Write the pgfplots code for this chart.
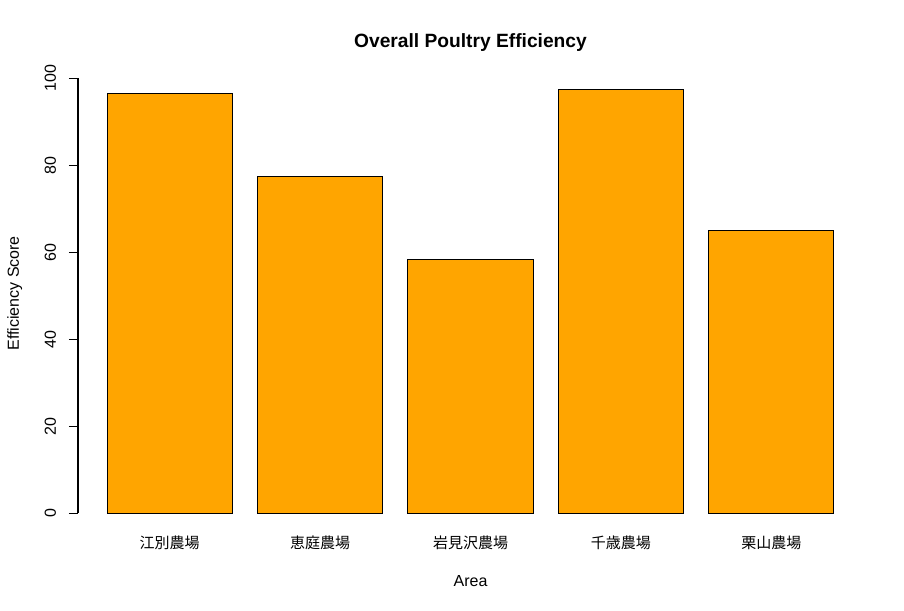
\documentclass[border=0pt]{standalone}
\usepackage{pgfplots}
\pgfplotsset{compat=1.18}
\usepackage{fontspec}
\setmainfont{Liberation Sans}
\newfontfamily\cjk{Noto Sans CJK JP}
\definecolor{barorange}{HTML}{FFA500}
\begin{document}
\begin{tikzpicture}
\useasboundingbox (-78bp,-97.7bp) rectangle (826bp,513.3bp);
\begin{axis}[
  at={(0,0)}, anchor=south west,
  scale only axis,
  width=785bp, height=435bp,
  xmin=-0.032, xmax=6.232,
  ymin=0, ymax=100,
  axis lines*=left,
  axis line style={-},
  x axis line style={draw=none},
  y axis line style={draw=black, line width=1bp},
  tick align=outside,
  major tick length=9bp,
  xtick={0.7,1.9,3.1,4.3,5.5},
  xticklabels={{\cjk 江別農場},{\cjk 恵庭農場},{\cjk 岩見沢農場},{\cjk 千歳農場},{\cjk 栗山農場}},
  x tick style={draw=none},
  ytick={0,20,40,60,80,100},
  y tick style={black, line width=1bp},
  /pgf/number format/assume math mode=true,
  tick label style={font=\fontsize{16bp}{19bp}\selectfont},
  xticklabel style={font=\cjk\fontsize{15bp}{18bp}\selectfont, anchor=base, yshift=-25.7bp},
  yticklabel style={xshift=-13bp, rotate=90, anchor=base},
  title={Overall Poultry Efficiency},
  title style={at={(axis description cs:0.5,1.05747)}, anchor=base, font=\bfseries\fontsize{19.2bp}{23bp}\selectfont},
  xlabel={Area},
  xlabel style={at={(axis description cs:0.5,-0.16874)}, anchor=base, font=\fontsize{16bp}{19bp}\selectfont},
  ylabel={Efficiency Score},
  ylabel style={at={(axis description cs:-0.07516,0.50552)}, rotate=0, anchor=base, font=\fontsize{16bp}{19bp}\selectfont},
  clip=false,
]
\addplot[ybar, bar width=1, bar shift=0pt, fill=barorange, draw=black, line width=1bp]
  coordinates {(0.7,96.5) (1.9,77.5) (3.1,58.4) (4.3,97.5) (5.5,65.1)};
\draw[black, line width=1.6bp] (rel axis cs:0,0) -- (rel axis cs:0,1);
\end{axis}
\end{tikzpicture}
\end{document}
